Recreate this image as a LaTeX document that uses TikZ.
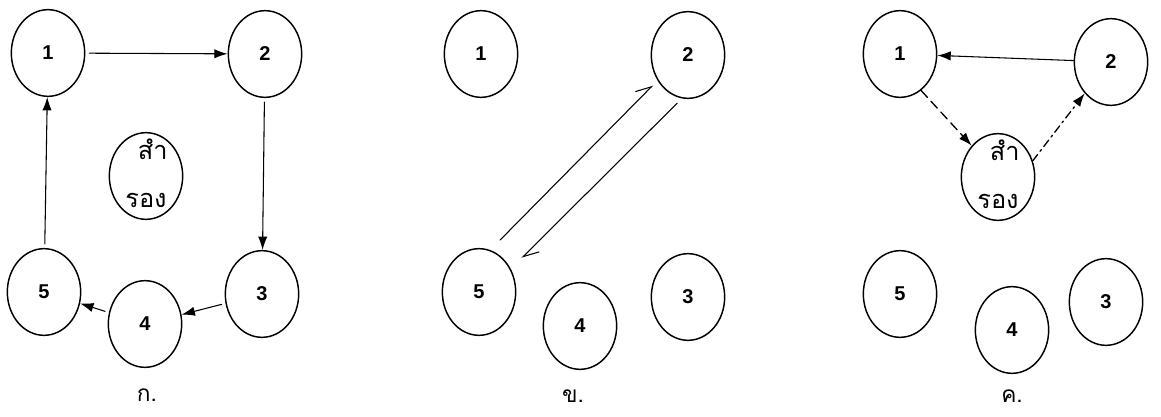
\documentclass[tikz,border=0pt]{standalone}
\usepackage{fontspec}
\setmainfont{Liberation Sans}
\newfontfamily\thaifont[Script=Thai]{Loma}
\usetikzlibrary{shapes.geometric,arrows.meta}

\begin{document}
\begin{tikzpicture}[x=0.75pt,y=-0.75pt,line join=round,line cap=round,
  ball/.style={draw,ellipse,line width=1.1pt,inner sep=0pt,minimum width=55pt,minimum height=65pt,font=\bfseries\fontsize{15}{15}\selectfont},
  spare/.style={ball,font=\thaifont\fontsize{19}{19}\selectfont},
  arr/.style={line width=0.8pt,-{Latex[length=10pt,width=7pt]}},
  hook/.style={line width=0.8pt,-{Straight Barb[left,length=11pt,width=12pt]}},
  sublabel/.style={anchor=base,font=\thaifont\fontsize{17}{17}\selectfont}]
\useasboundingbox (0,0) rectangle (1161,417);
% ก.
\foreach \i/\x/\y in {1/48/53,2/265/54,3/262/294,4/145/324,5/44/292}{\node[ball] (a\i) at (\x,\y) {\i};}
\node[spare] (as) at (146,176) {\smash{\raisebox{-5pt}{\begin{tabular}{@{}c@{}}\hspace{10pt}สำ\\[17pt]รอง\end{tabular}}}};
\foreach \u/\v in {1/2,2/3,3/4,4/5,5/1}{\draw[arr,shorten <=3pt] (a\u)--(a\v);}
\node[sublabel] (la) at (147,401) {ก.};
% ข.
\foreach \i/\x/\y in {1/481/54,2/688/55,3/688/297,4/580/326,5/479/292}{\node[ball] (b\i) at (\x,\y) {\i};}
\draw[hook,shorten <=10.5pt,shorten >=5pt] (b5.75)--(b2.220);
\draw[hook,shorten <=5pt,shorten >=11.5pt] (b2.262)--(b5.36);
\node[sublabel] (lb) at (573,402) {ข.};
% ค.
\foreach \i/\x/\y in {1/900/54,2/1111/62,3/1106/302,4/1012/330,5/900/294}{\node[ball] (c\i) at (\x,\y) {\i};}
\node[spare] (cs) at (998,177) {\smash{\raisebox{-5pt}{\begin{tabular}{@{}c@{}}\hspace{10pt}สำ\\[17pt]รอง\end{tabular}}}};
\draw[arr] (c2)--(c1);
\draw[arr,line width=1pt,dash pattern=on 7pt off 4pt] (c1.-60)--(cs.130);
\draw[arr,line width=1pt,dash pattern=on 6pt off 3pt on 1.5pt off 3pt] (cs.25)--(c2.230);
\node[sublabel] (lc) at (1012,402) {ค.};
\end{tikzpicture}
\end{document}
